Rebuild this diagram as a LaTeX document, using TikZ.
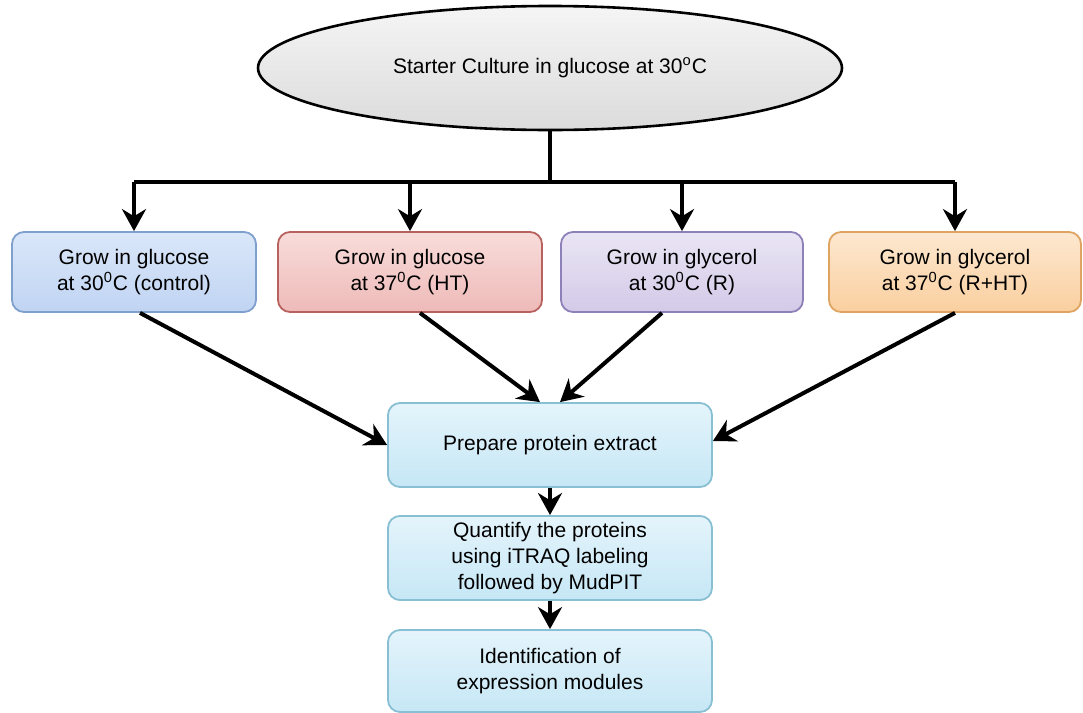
\documentclass[tikz,border=0pt]{standalone}
\usepackage{fontspec}
\setmainfont{Liberation Sans}
\usetikzlibrary{shapes.geometric, arrows.meta}

\definecolor{blueTop}{HTML}{DAE7F9}
\definecolor{blueBot}{HTML}{C0D4F2}
\definecolor{blueLine}{HTML}{7F9FCC}
\definecolor{redTop}{HTML}{F8DCDA}
\definecolor{redBot}{HTML}{EEBAB8}
\definecolor{redLine}{HTML}{B8625F}
\definecolor{lilacTop}{HTML}{EAE5F4}
\definecolor{lilacBot}{HTML}{D3CAE8}
\definecolor{lilacLine}{HTML}{8E80B8}
\definecolor{peachTop}{HTML}{FDE8D0}
\definecolor{peachBot}{HTML}{FACF9F}
\definecolor{peachLine}{HTML}{E0A462}
\definecolor{cyanTop}{HTML}{E4F4FB}
\definecolor{cyanBot}{HTML}{C6E7F6}
\definecolor{cyanLine}{HTML}{88BFD3}

\begin{document}
\begin{tikzpicture}[x=0.5pt, y=-0.5pt,
    arr/.style={line width=2pt, -{Stealth[length=11pt, width=12pt]}},
    box/.style={draw, line width=0.9pt, rounded corners=6pt, align=center,
        minimum height=40pt, font=\fontsize{10.5}{12.8}\selectfont},
    stepbox/.style={box, minimum width=162pt, draw=cyanLine, top color=cyanTop, bottom color=cyanBot},
    every node/.style={font=\fontsize{10.5}{12.8}\selectfont}]
    \useasboundingbox (0,0) rectangle (1083,713);

    % ---------- 1. top ellipse ----------
    \node[ellipse, draw, line width=1.3pt, minimum width=292pt, minimum height=62pt,
        top color=gray!8, bottom color=gray!28] (start) at (550,68)
        {Starter Culture in glucose at 30\textsuperscript{o}C};

    % ---------- 2. growth conditions ----------
    \node[box, minimum width=122pt, draw=blueLine, top color=blueTop, bottom color=blueBot]
        (g1) at (134,272) {Grow in glucose\\at 30\textsuperscript{0}C (control)};
    \node[box, minimum width=132pt, draw=redLine, top color=redTop, bottom color=redBot]
        (g2) at (410,272) {Grow in glucose\\at 37\textsuperscript{0}C (HT)};
    \node[box, minimum width=121pt, draw=lilacLine, top color=lilacTop, bottom color=lilacBot]
        (g3) at (682,272) {Grow in glycerol\\at 30\textsuperscript{0}C (R)};
    \node[box, minimum width=126pt, draw=peachLine, top color=peachTop, bottom color=peachBot]
        (g4) at (955,272) {Grow in glycerol\\at 37\textsuperscript{0}C (R+HT)};

    % ---------- 3. processing steps ----------
    \node[stepbox, minimum height=42pt] (prep) at (550,445) {Prepare protein extract};
    \node[stepbox] (quant) at (550,558) {Quantify the proteins\\using iTRAQ labeling\\followed by MudPIT};
    \node[stepbox, minimum height=41pt] (ident) at (550,671) {Identification of\\expression modules};

    % ---------- 4. connectors ----------
    \coordinate (split) at (550,182);
    \draw[line width=2pt] (start.south) -- (split);
    \draw[line width=2pt] (g1.north |- split) -- (g4.north |- split);
    \foreach \g in {g1, g2, g3, g4}
        \draw[arr] (\g.north |- split) -- (\g.north);

    \draw[arr] ([xshift=3pt]g1.south) -- (prep.west);
    \draw[arr] ([xshift=5pt]g2.south) -- ([xshift=-5pt]prep.north);
    \draw[arr] ([xshift=-10pt]g3.south) -- ([xshift=5pt]prep.north);
    \draw[arr] (g4.south) -- ([yshift=2pt]prep.east);

    \draw[arr] (prep) -- (quant);
    \draw[arr] (quant) -- (ident);
\end{tikzpicture}
\end{document}
